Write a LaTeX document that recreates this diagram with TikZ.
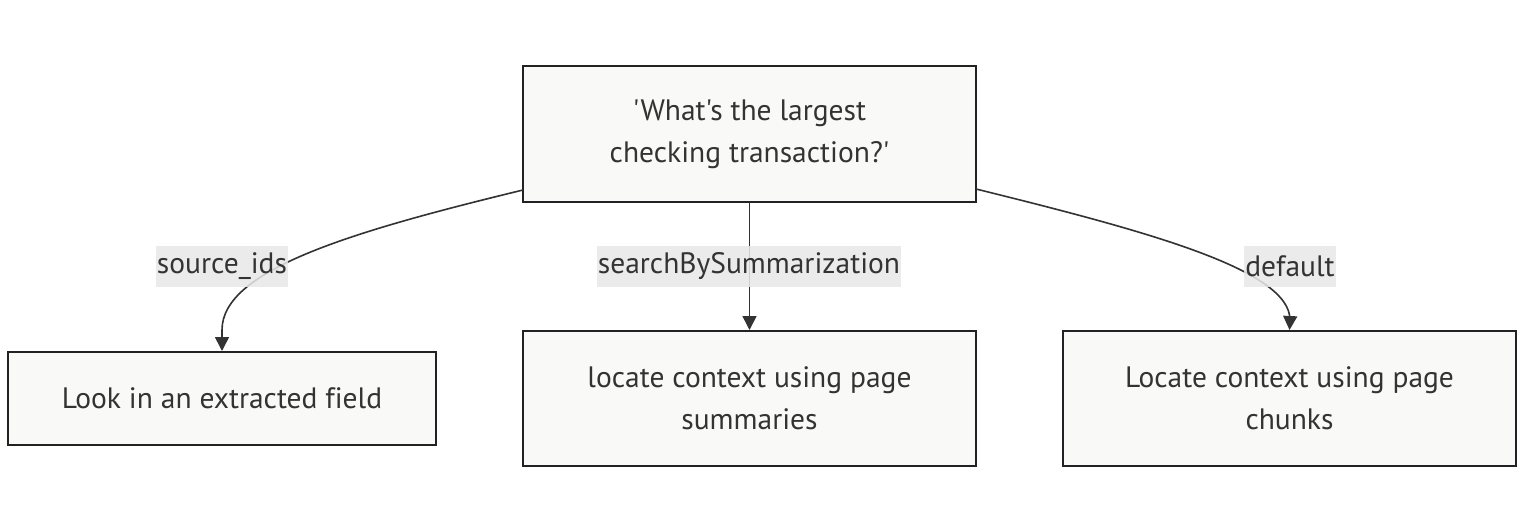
\documentclass[tikz,border=0pt]{standalone}
\usepackage{fontspec}
\setmainfont{PT Sans}[Ligatures={TeXOff,NoCommon}]
\usetikzlibrary{arrows.meta}
\definecolor{boxfill}{HTML}{F9F9F7}
\definecolor{boxline}{HTML}{222222}
\definecolor{txt}{HTML}{333333}
\definecolor{lblbg}{HTML}{E8E8E8}
\tikzset{
  procbox/.style={draw=boxline, line width=2pt, fill=boxfill, text=txt, inner sep=0pt,
    align=center, font=\fontsize{29.5}{42}\selectfont},
  edgelbl/.style={fill=lblbg, fill opacity=0.85, text opacity=1, text=txt, inner xsep=1pt, inner ysep=0pt,
    minimum height=41pt, font=\fontsize{29.5}{32}\selectfont},
  flow/.style={draw=txt, line width=1.6pt, -{Triangle[length=14pt,width=14pt]}},
}
\begin{document}
\begin{tikzpicture}[x=1pt,y=-1pt]
\useasboundingbox[fill=white] (0,0) rectangle (1528,519);
\node[procbox, minimum width=453pt, minimum height=136pt] (q) at (749.5,134) {'What's the largest\\ checking transaction?'};
\node[procbox, minimum width=428pt, minimum height=93pt] (a) at (222,398.5) {Look in an extracted field};
\node[procbox, minimum width=453pt, minimum height=135pt] (b) at (749.5,398.5) {locate context using page\\ summaries};
\node[procbox, minimum width=453pt, minimum height=135pt] (c) at (1289.5,398.5) {Locate context using page\\ chunks};
\coordinate (qa) at (523,190);
\coordinate (qc) at (976,189);
\draw[flow] (qa) .. controls (350,232) and (222,270) .. (222,330) -- (a.north);
\draw[flow] (q.south) -- (b.north);
\draw[flow] (qc) .. controls (1150,232) and (1290,270) .. (1290,320) -- (c.north);
\node[edgelbl] (la) at (222,266.5) {source\_ids};
\node[edgelbl] (lb) at (749,266.5) {searchBySummarization};
\node[edgelbl] (lc) at (1290,266.5) {default};
\end{tikzpicture}
\end{document}
